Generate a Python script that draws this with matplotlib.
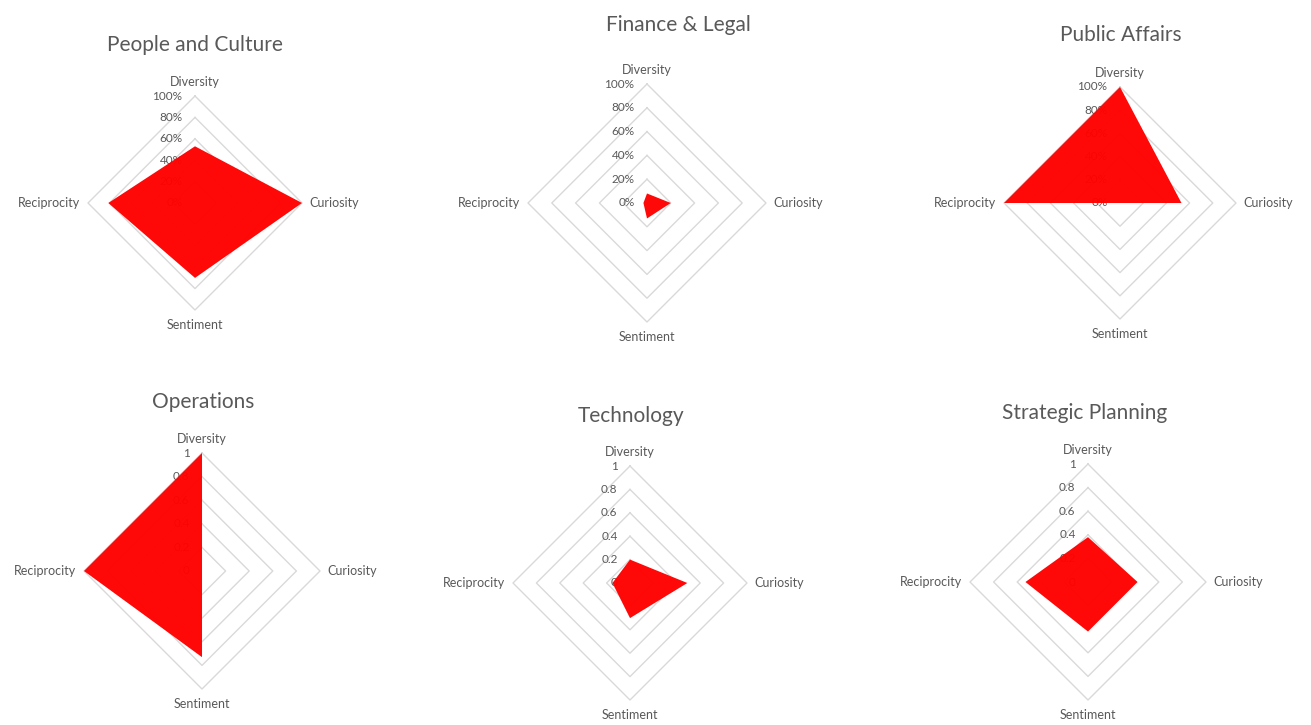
import matplotlib
matplotlib.use("Agg")
import numpy as np
import matplotlib.pyplot as plt

# ---------------- data ----------------
categories = ["Diversity", "Curiosity", "Sentiment", "Reciprocity"]
titles = ["People and Culture", "Finance & Legal", "Public Affairs",
          "Operations", "Technology", "Strategic Planning"]
people_culture = [0.53, 1.00, 0.70, 0.81]
finance_legal = [0.08, 0.20, 0.13, 0.03]
public_affairs = [1.00, 0.53, 0.00, 1.00]
operations = [1.00, 0.00, 0.73, 1.00]
technology = [0.20, 0.49, 0.30, 0.15]
strategic_planning = [0.38, 0.42, 0.42, 0.53]
tick_values = [0, 0.2, 0.4, 0.6, 0.8, 1.0]
pct_tick_labels = ["0%", "20%", "40%", "60%", "80%", "100%"]
num_tick_labels = ["0", "0.2", "0.4", "0.6", "0.8", "1"]

series = [people_culture, finance_legal, public_affairs,
          operations, technology, strategic_planning]
tick_label_sets = [pct_tick_labels] * 3 + [num_tick_labels] * 3

# ---------------- layout (pixels) ----------------
W, H = 1311, 725
centers = [(195, 203), (647, 203), (1120, 203), (202, 571), (630, 583), (1088, 582)]
radii = [107, 119, 116, 118, 117, 118]
title_pos = [(195, 45), (678, 25), (1121, 35), (203, 402), (631, 416), (1085, 413)]

TEXT = "#595959"
GRID = "#d9d9d9"
RED = "#ff0000"
FONT = ["Lato", "DejaVu Sans"]

plt.rcParams["font.family"] = FONT

fig = plt.figure(figsize=(W / 100, H / 100), dpi=100)
fig.patch.set_facecolor("white")

n = len(categories)
theta = np.arange(n) * 2 * np.pi / n
theta_closed = np.append(theta, theta[0])

label_offsets = [((0, 10), "center", "center"),
                 ((5, 0), "left", "center"),
                 ((0, -11), "center", "center"),
                 ((-6, 0), "right", "center")]

for i in range(6):
    cx, cy = centers[i]
    R = radii[i]
    rect = [(cx - R) / W, (H - cy - R) / H, 2 * R / W, 2 * R / H]
    ax = fig.add_axes(rect, projection="polar")
    ax.set_theta_offset(np.pi / 2)
    ax.set_theta_direction(-1)
    ax.set_ylim(0, 1)
    ax.grid(False)
    ax.set_xticks([])
    ax.set_yticks([])
    ax.spines["polar"].set_visible(False)
    ax.patch.set_alpha(0)

    # diamond gridlines
    for r in tick_values[1:]:
        ax.plot(theta_closed, [r] * (n + 1), color=GRID, lw=1.0, zorder=1,
                clip_on=False)

    # tick labels along the top axis
    for r, lab in zip(tick_values, tick_label_sets[i]):
        ax.annotate(lab, xy=(0, r), xytext=(-9, 0), textcoords="offset points",
                    ha="right", va="center", fontsize=8.5, color=TEXT,
                    zorder=2, annotation_clip=False)

    # data polygon
    vals = series[i]
    vals_closed = list(vals) + [vals[0]]
    ax.fill(theta_closed, vals_closed, color=RED, alpha=0.97, zorder=3,
            lw=0, clip_on=False)

    # category labels
    for t, cat, (off, ha, va) in zip(theta, categories, label_offsets):
        ax.annotate(cat, xy=(t, 1), xytext=off, textcoords="offset points",
                    ha=ha, va=va, fontsize=9, color=TEXT,
                    annotation_clip=False)

    tx, ty = title_pos[i]
    fig.text(tx / W, 1 - ty / H, titles[i], ha="center", va="center",
             fontsize=15, color=TEXT)

fig.savefig("out.png", dpi=100, facecolor="white")
